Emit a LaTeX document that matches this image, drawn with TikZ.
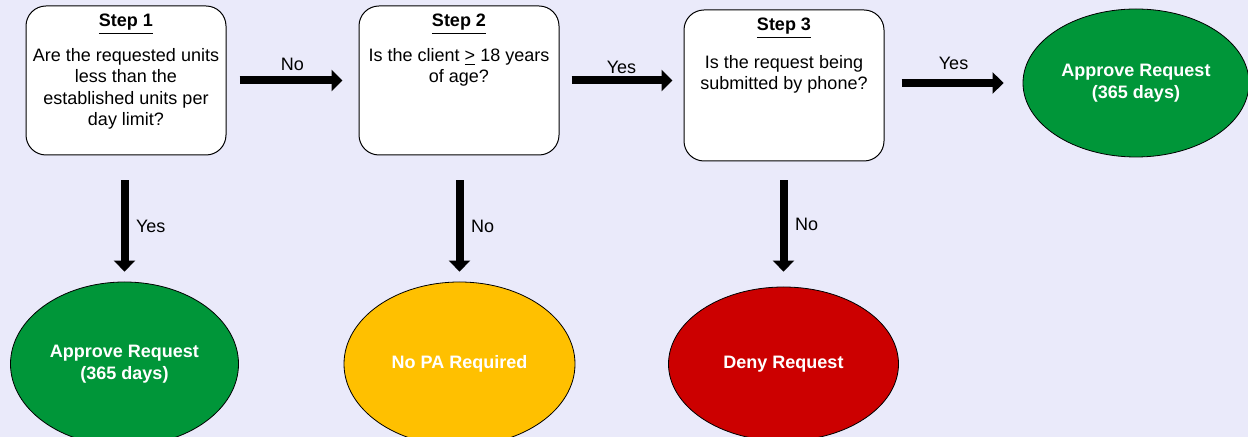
\documentclass[tikz,border=0pt]{standalone}
\usepackage{fontspec}
\setmainfont{Liberation Sans}
\usetikzlibrary{shapes.geometric,arrows.meta}
\definecolor{pagebg}{RGB}{234,234,250}
\definecolor{approvegreen}{RGB}{0,150,57}
\definecolor{nopayellow}{RGB}{255,192,0}
\definecolor{denyred}{RGB}{204,0,0}

\begin{document}
\begin{tikzpicture}[x=0.5pt, y=-0.5pt, font=\fontsize{9}{10.7}\selectfont,
        stepbox/.style={draw, line width=0.5pt, fill=white, rounded corners=10pt,
            minimum width=100pt, minimum height=74.5pt, inner sep=0pt},
        steptitle/.style={anchor=base, inner sep=0pt, font=\fontsize{9}{10.7}\selectfont\bfseries},
        stepquestion/.style={anchor=north, align=center, inner sep=0pt},
        outcome/.style={ellipse, draw, line width=0.4pt, inner sep=0pt, align=center,
            text=white, font=\fontsize{9}{10.7}\selectfont\bfseries},
        flow/.style={line width=4pt, -{Triangle[length=5.5pt, width=10.5pt]}},
        lbl/.style={anchor=base, inner sep=0pt, yshift=5pt},
        vlbl/.style={anchor=west, inner sep=0pt, xshift=3.75pt, pos=0.56}]

    \useasboundingbox (0,0) rectangle (1248,437);
    \fill[pagebg] (0,0) rectangle (1248,437);

    \node[stepbox] (q1) at (126,80.5) {};
    \node[stepbox] (q2) at (459,80.5) {};
    \node[stepbox, minimum height=75.5pt] (q3) at (784,85.5) {};

    \node[steptitle] (h1) at (126,27) {\underline{Step 1}};
    \node[stepquestion] (t1) at (126,48) {Are the requested units\\less than the\\established units per\\day limit?};
    \node[steptitle] (h2) at (459,27) {\underline{Step 2}};
    \node[stepquestion] (t2) at (459,48) {Is the client \underline{>} 18 years\\of age?};
    \node[steptitle] (h3) at (784,31) {\underline{Step 3}};
    \node[stepquestion] (t3) at (784,55) {Is the request being\\submitted by phone?};

    \node[outcome, fill=approvegreen, minimum width=114pt, minimum height=82pt] (e1) at (124.5,364) {Approve Request\\(365 days)};
    \node[outcome, fill=nopayellow, minimum width=115.5pt, minimum height=82pt] (e2) at (459.5,364) {No PA Required};
    \node[outcome, fill=denyred, minimum width=115pt, minimum height=77pt] (e3) at (783.5,364) {Deny Request};
    \node[outcome, fill=approvegreen, minimum width=113pt, minimum height=74pt] (e4) at (1136,83) {Approve Request\\(365 days)};

    \draw[flow, shorten <=6.5pt, shorten >=8pt] (q1.east) -- node[lbl] (l1) {No} (q2.west);
    \draw[flow, shorten <=6pt, shorten >=5.5pt] (q2.east) -- node[lbl, yshift=-1.5pt] (l2) {Yes} (q2.east -| q3.west);
    \draw[flow, shorten <=8.5pt, shorten >=9.5pt] (e4.west -| q3.east) -- node[lbl, yshift=1.5pt] (l3) {Yes} (e4.west);

    \draw[flow, shorten <=12.5pt, shorten >=5pt] (e1.north |- q1.south) -- node[vlbl] (l4) {Yes} (e1.north);
    \draw[flow, shorten <=12.5pt, shorten >=5pt] (e2.north |- q2.south) -- node[vlbl] (l5) {No} (e2.north);
    \draw[flow, shorten <=9.5pt, shorten >=7.5pt] (e3.north |- q3.south) -- node[vlbl, pos=0.5] (l6) {No} (e3.north);
\end{tikzpicture}
\end{document}
